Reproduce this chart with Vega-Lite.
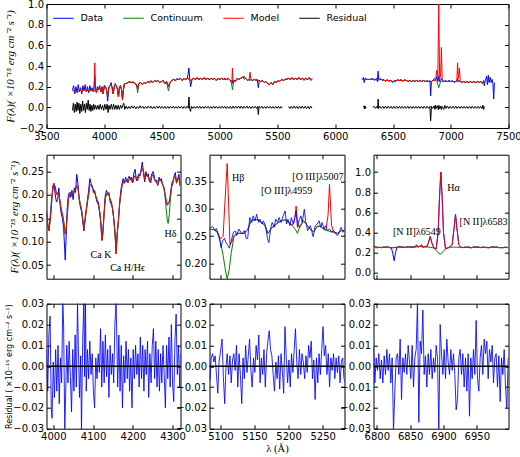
{
"$schema":"https://vega.github.io/schema/vega-lite/v6.json",
"background":"white",
"padding":{"left":3.5,"top":-2,"right":5,"bottom":5},
"config":{
 "view":{"stroke":"black","strokeWidth":1},
 "axis":{"domain":false,"grid":false,"labelFont":"DejaVu Sans","labelFontSize":10,"labelColor":"black","tickColor":"black","tickSize":-4,"labelPadding":7,"labelFlush":false,"labelOverlap":false,"titleFont":"Liberation Serif","titleFontStyle":"italic","titleFontWeight":"normal","titleFontSize":11,"titleColor":"black"},
 "line":{"strokeWidth":1}
},
"datasets":{
"top":[
{"w":3725,"d":0.17,"c":0.16,"m":0.16,"g":1},{"w":3735,"d":0.21,"c":0.16,"m":0.16,"g":1},{"w":3745,"d":0.13,"c":0.15,"m":0.15,"g":1},{"w":3755,"d":0.2,"c":0.16,"m":0.16,"g":1},{"w":3765,"d":0.14,"c":0.15,"m":0.16,"g":1},{"w":3775,"d":0.22,"c":0.16,"m":0.17,"g":1},{"w":3785,"d":0.15,"c":0.16,"m":0.16,"g":1},{"w":3795,"d":0.19,"c":0.17,"m":0.17,"g":1},{"w":3805,"d":0.13,"c":0.15,"m":0.15,"g":1},{"w":3815,"d":0.21,"c":0.17,"m":0.17,"g":1},{"w":3825,"d":0.16,"c":0.16,"m":0.16,"g":1},{"w":3835,"d":0.22,"c":0.17,"m":0.18,"g":1},{"w":3845,"d":0.15,"c":0.16,"m":0.16,"g":1},{"w":3855,"d":0.2,"c":0.17,"m":0.17,"g":1},{"w":3865,"d":0.14,"c":0.15,"m":0.15,"g":1},{"w":3875,"d":0.21,"c":0.17,"m":0.17,"g":1},{"w":3885,"d":0.16,"c":0.16,"m":0.16,"g":1},{"w":3895,"d":0.19,"c":0.17,"m":0.17,"g":1},{"w":3905,"d":0.15,"c":0.15,"m":0.16,"g":1},{"w":3912,"d":0.18,"c":0.16,"m":0.2,"g":1},{"w":3918,"d":0.3,"c":0.16,"m":0.43,"g":1},{"w":3924,"d":0.17,"c":0.16,"m":0.19,"g":1},{"w":3932,"d":0.15,"c":0.14,"m":0.14,"g":1},{"w":3940,"d":0.2,"c":0.18,"m":0.18,"g":1},{"w":3950,"d":0.17,"c":0.17,"m":0.17,"g":1},{"w":3960,"d":0.21,"c":0.2,"m":0.2,"g":1},{"w":3970,"d":0.15,"c":0.15,"m":0.15,"g":1},{"w":3980,"d":0.2,"c":0.19,"m":0.19,"g":1},{"w":3990,"d":0.13,"c":0.13,"m":0.13,"g":1},{"w":4000,"d":0.21,"c":0.2,"m":0.21,"g":1},{"w":4010,"d":0.2,"c":0.2,"m":0.2,"g":1},{"w":4020,"d":0.17,"c":0.17,"m":0.17,"g":1},{"w":4030,"d":0.06,"c":0.11,"m":0.11,"g":1},{"w":4040,"d":0.2,"c":0.19,"m":0.19,"g":1},{"w":4050,"d":0.21,"c":0.21,"m":0.21,"g":1},{"w":4060,"d":0.24,"c":0.22,"m":0.22,"g":1},{"w":4068,"d":0.19,"c":0.19,"m":0.19,"g":1},{"w":4077,"d":0.13,"c":0.13,"m":0.13,"g":1},{"w":4087,"d":0.2,"c":0.2,"m":0.2,"g":1},{"w":4095,"d":0.23,"c":0.22,"m":0.22,"g":1},{"w":4105,"d":0.21,"c":0.21,"m":0.21,"g":1},{"w":4115,"d":0.17,"c":0.17,"m":0.17,"g":1},{"w":4123,"d":0.1,"c":0.1,"m":0.1,"g":1},{"w":4131,"d":0.19,"c":0.19,"m":0.19,"g":1},{"w":4140,"d":0.21,"c":0.21,"m":0.21,"g":1},{"w":4150,"d":0.17,"c":0.17,"m":0.17,"g":1},{"w":4158,"d":0.07,"c":0.08,"m":0.08,"g":1},{"w":4166,"d":0.17,"c":0.17,"m":0.17,"g":1},{"w":4175,"d":0.23,"c":0.23,"m":0.23,"g":1},{"w":4190,"d":0.23,"c":0.23,"m":0.23,"g":1},{"w":4205,"d":0.24,"c":0.24,"m":0.24,"g":1},{"w":4220,"d":0.25,"c":0.24,"m":0.25,"g":1},{"w":4235,"d":0.24,"c":0.24,"m":0.24,"g":1},{"w":4250,"d":0.25,"c":0.24,"m":0.24,"g":1},{"w":4265,"d":0.23,"c":0.23,"m":0.23,"g":1},{"w":4280,"d":0.22,"c":0.22,"m":0.22,"g":1},{"w":4289,"d":0.18,"c":0.14,"m":0.18,"g":1},{"w":4300,"d":0.23,"c":0.23,"m":0.23,"g":1},{"w":4315,"d":0.24,"c":0.24,"m":0.24,"g":1},{"w":4330,"d":0.22,"c":0.22,"m":0.22,"g":1},{"w":4345,"d":0.24,"c":0.24,"m":0.24,"g":1},{"w":4360,"d":0.23,"c":0.23,"m":0.23,"g":1},{"w":4375,"d":0.25,"c":0.25,"m":0.25,"g":1},{"w":4390,"d":0.24,"c":0.24,"m":0.24,"g":1},{"w":4405,"d":0.26,"c":0.25,"m":0.25,"g":1},{"w":4420,"d":0.24,"c":0.24,"m":0.24,"g":1},{"w":4435,"d":0.26,"c":0.26,"m":0.26,"g":1},{"w":4450,"d":0.25,"c":0.25,"m":0.25,"g":1},{"w":4465,"d":0.26,"c":0.26,"m":0.26,"g":1},{"w":4480,"d":0.24,"c":0.24,"m":0.24,"g":1},{"w":4495,"d":0.25,"c":0.25,"m":0.25,"g":1},{"w":4510,"d":0.26,"c":0.26,"m":0.26,"g":1},{"w":4525,"d":0.23,"c":0.23,"m":0.23,"g":1},{"w":4540,"d":0.25,"c":0.24,"m":0.25,"g":1},{"w":4556,"d":0.21,"c":0.16,"m":0.2,"g":1},{"w":4570,"d":0.24,"c":0.24,"m":0.24,"g":1},{"w":4585,"d":0.26,"c":0.26,"m":0.26,"g":1},{"w":4600,"d":0.27,"c":0.27,"m":0.27,"g":1},{"w":4615,"d":0.26,"c":0.26,"m":0.26,"g":1},{"w":4630,"d":0.28,"c":0.27,"m":0.27,"g":1},{"w":4645,"d":0.27,"c":0.27,"m":0.27,"g":1},{"w":4660,"d":0.28,"c":0.28,"m":0.28,"g":1},{"w":4675,"d":0.26,"c":0.26,"m":0.26,"g":1},{"w":4690,"d":0.28,"c":0.28,"m":0.28,"g":1},{"w":4705,"d":0.27,"c":0.27,"m":0.27,"g":1},{"w":4720,"d":0.28,"c":0.28,"m":0.28,"g":1},{"w":4733,"d":0.38,"c":0.27,"m":0.28,"g":1},{"w":4740,"d":0.27,"c":0.27,"m":0.27,"g":1},{"w":4748,"d":0.2,"c":0.26,"m":0.26,"g":1},{"w":4760,"d":0.27,"c":0.27,"m":0.27,"g":1},{"w":4775,"d":0.28,"c":0.28,"m":0.28,"g":1},{"w":4790,"d":0.27,"c":0.27,"m":0.27,"g":1},{"w":4805,"d":0.29,"c":0.28,"m":0.28,"g":1},{"w":4820,"d":0.27,"c":0.27,"m":0.27,"g":1},{"w":4835,"d":0.28,"c":0.28,"m":0.28,"g":1},{"w":4850,"d":0.27,"c":0.27,"m":0.27,"g":1},{"w":4865,"d":0.29,"c":0.28,"m":0.28,"g":1},{"w":4880,"d":0.27,"c":0.27,"m":0.27,"g":1},{"w":4895,"d":0.28,"c":0.28,"m":0.28,"g":1},{"w":4910,"d":0.27,"c":0.27,"m":0.27,"g":1},{"w":4925,"d":0.28,"c":0.28,"m":0.28,"g":1},{"w":4940,"d":0.27,"c":0.27,"m":0.27,"g":1},{"w":4955,"d":0.28,"c":0.28,"m":0.28,"g":1},{"w":4970,"d":0.26,"c":0.26,"m":0.26,"g":1},{"w":4985,"d":0.28,"c":0.28,"m":0.28,"g":1},{"w":5000,"d":0.27,"c":0.27,"m":0.27,"g":1},{"w":5015,"d":0.28,"c":0.28,"m":0.28,"g":1},{"w":5030,"d":0.27,"c":0.27,"m":0.27,"g":1},{"w":5045,"d":0.28,"c":0.27,"m":0.28,"g":1},{"w":5060,"d":0.27,"c":0.27,"m":0.27,"g":1},{"w":5075,"d":0.28,"c":0.28,"m":0.28,"g":1},{"w":5090,"d":0.26,"c":0.26,"m":0.26,"g":1},{"w":5100,"d":0.25,"c":0.24,"m":0.25,"g":1},{"w":5106,"d":0.24,"c":0.2,"m":0.27,"g":1},{"w":5110,"d":0.26,"c":0.17,"m":0.38,"g":1},{"w":5114,"d":0.23,"c":0.2,"m":0.25,"g":1},{"w":5122,"d":0.26,"c":0.26,"m":0.26,"g":1},{"w":5135,"d":0.25,"c":0.25,"m":0.25,"g":1},{"w":5150,"d":0.28,"c":0.28,"m":0.28,"g":1},{"w":5165,"d":0.27,"c":0.27,"m":0.27,"g":1},{"w":5180,"d":0.28,"c":0.28,"m":0.28,"g":1},{"w":5195,"d":0.29,"c":0.29,"m":0.29,"g":1},{"w":5211,"d":0.29,"c":0.27,"m":0.3,"g":1},{"w":5225,"d":0.28,"c":0.28,"m":0.28,"g":1},{"w":5240,"d":0.26,"c":0.26,"m":0.26,"g":1},{"w":5255,"d":0.27,"c":0.27,"m":0.27,"g":1},{"w":5262,"d":0.26,"c":0.26,"m":0.34,"g":1},{"w":5270,"d":0.27,"c":0.27,"m":0.27,"g":1},{"w":5285,"d":0.26,"c":0.26,"m":0.26,"g":1},{"w":5300,"d":0.27,"c":0.27,"m":0.27,"g":1},{"w":5315,"d":0.26,"c":0.26,"m":0.26,"g":1},{"w":5325,"d":0.27,"c":0.27,"m":0.27,"g":1},{"w":5334,"d":0.19,"c":0.26,"m":0.26,"g":1},{"w":5342,"d":0.26,"c":0.26,"m":0.26,"g":1},{"w":5355,"d":0.25,"c":0.25,"m":0.25,"g":1},{"w":5370,"d":0.26,"c":0.26,"m":0.26,"g":1},{"w":5385,"d":0.24,"c":0.24,"m":0.24,"g":1},{"w":5400,"d":0.25,"c":0.25,"m":0.25,"g":1},{"w":5415,"d":0.23,"c":0.23,"m":0.23,"g":1},{"w":5430,"d":0.22,"c":0.22,"m":0.22,"g":1},{"w":5445,"d":0.24,"c":0.24,"m":0.24,"g":1},{"w":5460,"d":0.22,"c":0.22,"m":0.22,"g":1},{"w":5475,"d":0.25,"c":0.25,"m":0.25,"g":1},{"w":5490,"d":0.24,"c":0.24,"m":0.24,"g":1},{"w":5505,"d":0.26,"c":0.26,"m":0.26,"g":1},{"w":5520,"d":0.25,"c":0.25,"m":0.25,"g":1},{"w":5535,"d":0.27,"c":0.27,"m":0.27,"g":1},{"w":5550,"d":0.26,"c":0.26,"m":0.26,"g":1},{"w":5565,"d":0.27,"c":0.27,"m":0.27,"g":1},{"w":5580,"d":0.27,"c":0.27,"m":0.28,"g":1},{"w":5595,"d":0.28,"c":0.28,"m":0.28,"g":1},{"w":5610,"d":0.27,"c":0.27,"m":0.27,"g":1},{"w":5625,"d":0.29,"c":0.28,"m":0.28,"g":1},{"w":5640,"d":0.27,"c":0.27,"m":0.27,"g":1},{"w":5655,"d":0.28,"c":0.28,"m":0.28,"g":1},{"w":5670,"d":0.27,"c":0.27,"m":0.27,"g":1},{"w":5685,"d":0.29,"c":0.28,"m":0.28,"g":1},{"w":5700,"d":0.27,"c":0.27,"m":0.27,"g":1},{"w":5715,"d":0.28,"c":0.28,"m":0.28,"g":1},{"w":5730,"d":0.26,"c":0.27,"m":0.27,"g":1},{"w":5745,"d":0.28,"c":0.28,"m":0.28,"g":1},{"w":5760,"d":0.27,"c":0.27,"m":0.27,"g":1},{"w":5775,"d":0.29,"c":0.28,"m":0.28,"g":1},{"w":5790,"d":0.26,"c":0.27,"m":0.27,"g":1},{"w":5800,"d":0.28,"c":0.27,"m":0.27,"g":1},
{"w":6235,"d":0.27,"c":0.27,"m":0.27,"g":2},{"w":6245,"d":0.29,"c":0.27,"m":0.27,"g":2},{"w":6250,"d":0.24,"c":0.27,"m":0.27,"g":2},{"w":6258,"d":0.28,"c":0.27,"m":0.27,"g":2},{"w":6275,"d":0.27,"c":0.27,"m":0.27,"g":2},{"w":6300,"d":0.27,"c":0.27,"m":0.27,"g":2},{"w":6325,"d":0.28,"c":0.27,"m":0.27,"g":2},{"w":6340,"d":0.26,"c":0.27,"m":0.27,"g":2},{"w":6355,"d":0.28,"c":0.27,"m":0.27,"g":2},{"w":6365,"d":0.25,"c":0.27,"m":0.27,"g":2},{"w":6371,"d":0.35,"c":0.27,"m":0.27,"g":2},{"w":6378,"d":0.26,"c":0.27,"m":0.27,"g":2},{"w":6390,"d":0.28,"c":0.27,"m":0.27,"g":2},{"w":6405,"d":0.26,"c":0.27,"m":0.27,"g":2},{"w":6420,"d":0.27,"c":0.26,"m":0.26,"g":2},{"w":6435,"d":0.25,"c":0.26,"m":0.26,"g":2},{"w":6450,"d":0.27,"c":0.26,"m":0.26,"g":2},{"w":6465,"d":0.25,"c":0.26,"m":0.26,"g":2},{"w":6480,"d":0.26,"c":0.26,"m":0.26,"g":2},{"w":6495,"d":0.24,"c":0.25,"m":0.25,"g":2},{"w":6510,"d":0.26,"c":0.25,"m":0.25,"g":2},{"w":6525,"d":0.25,"c":0.26,"m":0.26,"g":2},{"w":6540,"d":0.27,"c":0.26,"m":0.26,"g":2},{"w":6555,"d":0.26,"c":0.26,"m":0.26,"g":2},{"w":6570,"d":0.27,"c":0.26,"m":0.26,"g":2},{"w":6585,"d":0.25,"c":0.26,"m":0.26,"g":2},{"w":6600,"d":0.27,"c":0.26,"m":0.26,"g":2},{"w":6615,"d":0.26,"c":0.26,"m":0.26,"g":2},{"w":6630,"d":0.25,"c":0.25,"m":0.25,"g":2},{"w":6645,"d":0.26,"c":0.26,"m":0.26,"g":2},{"w":6660,"d":0.25,"c":0.25,"m":0.25,"g":2},{"w":6675,"d":0.26,"c":0.26,"m":0.26,"g":2},{"w":6690,"d":0.25,"c":0.25,"m":0.25,"g":2},{"w":6705,"d":0.26,"c":0.26,"m":0.26,"g":2},{"w":6720,"d":0.25,"c":0.25,"m":0.25,"g":2},{"w":6735,"d":0.26,"c":0.26,"m":0.26,"g":2},{"w":6750,"d":0.25,"c":0.25,"m":0.25,"g":2},{"w":6765,"d":0.26,"c":0.26,"m":0.26,"g":2},{"w":6780,"d":0.25,"c":0.25,"m":0.25,"g":2},{"w":6795,"d":0.26,"c":0.25,"m":0.25,"g":2},{"w":6810,"d":0.25,"c":0.25,"m":0.25,"g":2},{"w":6820,"d":0.26,"c":0.25,"m":0.25,"g":2},{"w":6826,"d":0.11,"c":0.25,"m":0.25,"g":2},{"w":6832,"d":0.25,"c":0.25,"m":0.25,"g":2},{"w":6845,"d":0.26,"c":0.26,"m":0.26,"g":2},{"w":6860,"d":0.28,"c":0.26,"m":0.26,"g":2},{"w":6870,"d":0.26,"c":0.26,"m":0.27,"g":2},{"w":6880,"d":0.3,"c":0.25,"m":0.36,"g":2},{"w":6888,"d":0.25,"c":0.22,"m":0.3,"g":2},{"w":6896,"d":0.3,"c":0.19,"m":1.0,"g":2},{"w":6904,"d":0.25,"c":0.22,"m":0.28,"g":2},{"w":6912,"d":0.26,"c":0.25,"m":0.3,"g":2},{"w":6919,"d":0.28,"c":0.25,"m":0.58,"g":2},{"w":6926,"d":0.26,"c":0.25,"m":0.27,"g":2},{"w":6940,"d":0.25,"c":0.25,"m":0.25,"g":2},{"w":6955,"d":0.26,"c":0.25,"m":0.25,"g":2},{"w":6970,"d":0.25,"c":0.25,"m":0.25,"g":2},{"w":6985,"d":0.26,"c":0.25,"m":0.25,"g":2},{"w":7000,"d":0.25,"c":0.25,"m":0.25,"g":2},{"w":7015,"d":0.26,"c":0.25,"m":0.25,"g":2},{"w":7030,"d":0.24,"c":0.25,"m":0.25,"g":2},{"w":7045,"d":0.25,"c":0.25,"m":0.25,"g":2},{"w":7053,"d":0.25,"c":0.25,"m":0.27,"g":2},{"w":7059,"d":0.28,"c":0.25,"m":0.43,"g":2},{"w":7066,"d":0.25,"c":0.25,"m":0.28,"g":2},{"w":7075,"d":0.26,"c":0.25,"m":0.38,"g":2},{"w":7082,"d":0.25,"c":0.25,"m":0.26,"g":2},{"w":7095,"d":0.24,"c":0.24,"m":0.24,"g":2},{"w":7110,"d":0.25,"c":0.25,"m":0.25,"g":2},{"w":7125,"d":0.24,"c":0.24,"m":0.24,"g":2},{"w":7140,"d":0.25,"c":0.25,"m":0.25,"g":2},{"w":7155,"d":0.24,"c":0.24,"m":0.24,"g":2},{"w":7170,"d":0.25,"c":0.25,"m":0.25,"g":2},{"w":7185,"d":0.24,"c":0.24,"m":0.24,"g":2},{"w":7200,"d":0.25,"c":0.25,"m":0.25,"g":2},{"w":7215,"d":0.24,"c":0.24,"m":0.24,"g":2},{"w":7230,"d":0.25,"c":0.25,"m":0.25,"g":2},{"w":7245,"d":0.24,"c":0.24,"m":0.24,"g":2},{"w":7260,"d":0.25,"c":0.25,"m":0.25,"g":2},{"w":7275,"d":0.23,"c":0.24,"m":0.24,"g":2},{"w":7285,"d":0.26,"c":0.25,"m":0.25,"g":2},{"w":7290,"d":0.21,"c":0.25,"m":0.25,"g":2},{"w":7300,"d":0.26,"g":2},{"w":7310,"d":0.3,"g":2},{"w":7318,"d":0.22,"g":2},{"w":7325,"d":0.31,"g":2},{"w":7332,"d":0.24,"g":2},{"w":7342,"d":0.29,"g":2},{"w":7350,"d":0.24,"g":2},{"w":7358,"d":0.27,"g":2},{"w":7365,"d":0.23,"g":2},{"w":7372,"d":0.08,"g":2},{"w":7378,"d":0.24,"g":2}
],
"tres":[
{"w":3725,"r":-0.03,"g":1},{"w":3733,"r":0.04,"g":1},{"w":3741,"r":-0.05,"g":1},{"w":3749,"r":0.03,"g":1},{"w":3757,"r":-0.04,"g":1},{"w":3765,"r":0.05,"g":1},{"w":3773,"r":-0.03,"g":1},{"w":3781,"r":0.04,"g":1},{"w":3789,"r":-0.06,"g":1},{"w":3797,"r":0.03,"g":1},{"w":3805,"r":-0.04,"g":1},{"w":3813,"r":0.06,"g":1},{"w":3821,"r":-0.03,"g":1},{"w":3829,"r":0.03,"g":1},{"w":3837,"r":-0.05,"g":1},{"w":3845,"r":0.04,"g":1},{"w":3853,"r":-0.02,"g":1},{"w":3861,"r":0.07,"g":1},{"w":3869,"r":-0.03,"g":1},{"w":3877,"r":0.03,"g":1},{"w":3885,"r":-0.04,"g":1},{"w":3893,"r":0.02,"g":1},{"w":3901,"r":-0.03,"g":1},{"w":3909,"r":0.03,"g":1},{"w":3917,"r":-0.02,"g":1},{"w":3925,"r":0.02,"g":1},{"w":3935,"r":-0.02,"g":1},{"w":3945,"r":0.02,"g":1},{"w":3955,"r":-0.02,"g":1},{"w":3965,"r":0.03,"g":1},{"w":3975,"r":-0.02,"g":1},{"w":3985,"r":0.02,"g":1},{"w":3995,"r":-0.03,"g":1},{"w":4005,"r":0.03,"g":1},{"w":4015,"r":-0.02,"g":1},{"w":4025,"r":0.03,"g":1},{"w":4033,"r":-0.05,"g":1},{"w":4041,"r":0.02,"g":1},{"w":4051,"r":-0.02,"g":1},{"w":4061,"r":0.03,"g":1},{"w":4071,"r":-0.02,"g":1},{"w":4081,"r":0.03,"g":1},{"w":4091,"r":-0.02,"g":1},{"w":4101,"r":0.02,"g":1},{"w":4111,"r":-0.02,"g":1},{"w":4121,"r":0.02,"g":1},{"w":4131,"r":-0.02,"g":1},{"w":4141,"r":0.02,"g":1},{"w":4151,"r":-0.01,"g":1},{"w":4161,"r":0.02,"g":1},{"w":4169,"r":0.04,"g":1},{"w":4177,"r":-0.02,"g":1},{"w":4189,"r":0.012,"g":1},{"w":4201,"r":-0.015,"g":1},{"w":4213,"r":0.008,"g":1},{"w":4225,"r":-0.012,"g":1},{"w":4237,"r":0.014,"g":1},{"w":4249,"r":-0.008,"g":1},{"w":4261,"r":0.012,"g":1},{"w":4273,"r":-0.014,"g":1},{"w":4285,"r":0.006,"g":1},{"w":4297,"r":-0.012,"g":1},{"w":4309,"r":0.015,"g":1},{"w":4321,"r":-0.008,"g":1},{"w":4333,"r":0.01,"g":1},{"w":4345,"r":-0.012,"g":1},{"w":4357,"r":0.008,"g":1},{"w":4369,"r":-0.01,"g":1},{"w":4381,"r":0.012,"g":1},{"w":4393,"r":-0.008,"g":1},{"w":4405,"r":0.01,"g":1},{"w":4417,"r":-0.014,"g":1},{"w":4429,"r":0.008,"g":1},{"w":4441,"r":-0.01,"g":1},{"w":4453,"r":0.01,"g":1},{"w":4465,"r":-0.008,"g":1},{"w":4477,"r":0.012,"g":1},{"w":4489,"r":-0.01,"g":1},{"w":4501,"r":0.008,"g":1},{"w":4513,"r":-0.01,"g":1},{"w":4525,"r":0.01,"g":1},{"w":4537,"r":-0.012,"g":1},{"w":4549,"r":0.008,"g":1},{"w":4561,"r":-0.01,"g":1},{"w":4573,"r":0.01,"g":1},{"w":4585,"r":-0.008,"g":1},{"w":4597,"r":0.01,"g":1},{"w":4609,"r":-0.01,"g":1},{"w":4621,"r":0.008,"g":1},{"w":4633,"r":-0.01,"g":1},{"w":4645,"r":0.01,"g":1},{"w":4657,"r":-0.008,"g":1},{"w":4669,"r":0.01,"g":1},{"w":4681,"r":-0.01,"g":1},{"w":4693,"r":0.008,"g":1},{"w":4705,"r":-0.01,"g":1},{"w":4717,"r":0.01,"g":1},{"w":4727,"r":-0.008,"g":1},{"w":4733,"r":0.1,"g":1},{"w":4739,"r":-0.01,"g":1},{"w":4747,"r":-0.04,"g":1},{"w":4755,"r":0.01,"g":1},{"w":4767,"r":-0.01,"g":1},{"w":4779,"r":0.008,"g":1},{"w":4791,"r":-0.01,"g":1},{"w":4803,"r":0.01,"g":1},{"w":4815,"r":-0.008,"g":1},{"w":4827,"r":0.01,"g":1},{"w":4839,"r":-0.01,"g":1},{"w":4851,"r":0.008,"g":1},{"w":4863,"r":-0.01,"g":1},{"w":4875,"r":0.01,"g":1},{"w":4887,"r":-0.008,"g":1},{"w":4899,"r":0.01,"g":1},{"w":4911,"r":-0.01,"g":1},{"w":4923,"r":0.008,"g":1},{"w":4935,"r":-0.01,"g":1},{"w":4947,"r":0.01,"g":1},{"w":4959,"r":-0.008,"g":1},{"w":4971,"r":0.01,"g":1},{"w":4983,"r":-0.01,"g":1},{"w":4995,"r":0.008,"g":1},{"w":5007,"r":-0.01,"g":1},{"w":5019,"r":0.01,"g":1},{"w":5031,"r":-0.008,"g":1},{"w":5043,"r":0.01,"g":1},{"w":5055,"r":-0.01,"g":1},{"w":5067,"r":0.008,"g":1},{"w":5079,"r":-0.01,"g":1},{"w":5091,"r":0.01,"g":1},{"w":5103,"r":-0.012,"g":1},{"w":5115,"r":0.012,"g":1},{"w":5127,"r":-0.01,"g":1},{"w":5139,"r":0.01,"g":1},{"w":5151,"r":-0.008,"g":1},{"w":5163,"r":0.012,"g":1},{"w":5175,"r":-0.01,"g":1},{"w":5187,"r":0.012,"g":1},{"w":5199,"r":-0.012,"g":1},{"w":5211,"r":0.01,"g":1},{"w":5223,"r":-0.008,"g":1},{"w":5235,"r":0.012,"g":1},{"w":5247,"r":-0.01,"g":1},{"w":5259,"r":0.01,"g":1},{"w":5271,"r":-0.012,"g":1},{"w":5283,"r":0.01,"g":1},{"w":5295,"r":-0.008,"g":1},{"w":5307,"r":0.01,"g":1},{"w":5319,"r":-0.01,"g":1},{"w":5328,"r":0.008,"g":1},{"w":5334,"r":-0.07,"g":1},{"w":5340,"r":0.01,"g":1},{"w":5352,"r":-0.008,"g":1},{"w":5364,"r":0.01,"g":1},{"w":5376,"r":-0.01,"g":1},{"w":5388,"r":0.008,"g":1},{"w":5400,"r":-0.01,"g":1},{"w":5412,"r":0.01,"g":1},{"w":5424,"r":-0.008,"g":1},{"w":5436,"r":0.01,"g":1},{"w":5448,"r":-0.01,"g":1},{"w":5460,"r":0.008,"g":1},{"w":5472,"r":-0.01,"g":1},{"w":5484,"r":0.01,"g":1},{"w":5496,"r":-0.008,"g":1},{"w":5508,"r":0.01,"g":1},{"w":5520,"r":-0.01,"g":1},{"w":5532,"r":0.008,"g":1},{"w":5540,"r":-0.008,"g":1},
{"w":5595,"r":0.008,"g":2},{"w":5607,"r":-0.012,"g":2},{"w":5619,"r":0.01,"g":2},{"w":5631,"r":-0.01,"g":2},{"w":5643,"r":0.012,"g":2},{"w":5655,"r":-0.01,"g":2},{"w":5667,"r":0.01,"g":2},{"w":5679,"r":-0.012,"g":2},{"w":5691,"r":0.01,"g":2},{"w":5703,"r":-0.01,"g":2},{"w":5715,"r":0.012,"g":2},{"w":5727,"r":-0.01,"g":2},{"w":5739,"r":0.01,"g":2},{"w":5751,"r":-0.012,"g":2},{"w":5763,"r":0.01,"g":2},{"w":5775,"r":-0.014,"g":2},{"w":5787,"r":0.012,"g":2},{"w":5797,"r":-0.01,"g":2},
{"w":6245,"r":0.0,"g":3},{"w":6250,"r":0.015,"g":3},{"w":6254,"r":-0.015,"g":3},{"w":6258,"r":0.012,"g":3},{"w":6262,"r":-0.01,"g":3},{"w":6266,"r":0.0,"g":3},
{"w":6325,"r":0.0,"g":4},{"w":6337,"r":0.01,"g":4},{"w":6349,"r":-0.01,"g":4},{"w":6361,"r":0.01,"g":4},{"w":6368,"r":-0.01,"g":4},{"w":6371,"r":0.08,"g":4},{"w":6375,"r":-0.01,"g":4},{"w":6387,"r":0.01,"g":4},{"w":6399,"r":-0.01,"g":4},{"w":6411,"r":0.01,"g":4},{"w":6423,"r":-0.01,"g":4},{"w":6435,"r":0.012,"g":4},{"w":6447,"r":-0.01,"g":4},{"w":6459,"r":0.01,"g":4},{"w":6471,"r":-0.01,"g":4},{"w":6483,"r":0.01,"g":4},{"w":6495,"r":-0.012,"g":4},{"w":6507,"r":0.01,"g":4},{"w":6519,"r":-0.01,"g":4},{"w":6531,"r":0.01,"g":4},{"w":6543,"r":-0.01,"g":4},{"w":6555,"r":0.01,"g":4},{"w":6567,"r":-0.01,"g":4},{"w":6579,"r":0.01,"g":4},{"w":6591,"r":-0.01,"g":4},{"w":6603,"r":0.01,"g":4},{"w":6615,"r":-0.01,"g":4},{"w":6627,"r":0.01,"g":4},{"w":6639,"r":-0.01,"g":4},{"w":6651,"r":0.01,"g":4},{"w":6663,"r":-0.01,"g":4},{"w":6675,"r":0.01,"g":4},{"w":6687,"r":-0.01,"g":4},{"w":6699,"r":0.01,"g":4},{"w":6711,"r":-0.01,"g":4},{"w":6723,"r":0.01,"g":4},{"w":6735,"r":-0.01,"g":4},{"w":6747,"r":0.01,"g":4},{"w":6759,"r":-0.01,"g":4},{"w":6771,"r":0.01,"g":4},{"w":6783,"r":-0.01,"g":4},{"w":6795,"r":0.01,"g":4},{"w":6807,"r":-0.01,"g":4},{"w":6819,"r":0.01,"g":4},{"w":6826,"r":-0.13,"g":4},{"w":6833,"r":0.01,"g":4},{"w":6845,"r":-0.01,"g":4},{"w":6857,"r":0.015,"g":4},{"w":6863,"r":-0.02,"g":4},{"w":6869,"r":0.02,"g":4},{"w":6877,"r":-0.01,"g":4},{"w":6885,"r":0.015,"g":4},{"w":6893,"r":-0.025,"g":4},{"w":6897,"r":0.02,"g":4},{"w":6905,"r":-0.015,"g":4},{"w":6913,"r":0.012,"g":4},{"w":6919,"r":-0.02,"g":4},{"w":6925,"r":0.01,"g":4},{"w":6935,"r":-0.012,"g":4},{"w":6940,"r":-0.02,"g":4},{"w":6949,"r":0.02,"g":4},{"w":6959,"r":-0.01,"g":4},{"w":6971,"r":0.012,"g":4},{"w":6983,"r":-0.012,"g":4},{"w":6995,"r":0.01,"g":4},{"w":7007,"r":-0.01,"g":4},{"w":7019,"r":0.01,"g":4},{"w":7031,"r":-0.01,"g":4},{"w":7043,"r":0.01,"g":4},{"w":7055,"r":-0.01,"g":4},{"w":7067,"r":0.01,"g":4},{"w":7079,"r":-0.01,"g":4},{"w":7091,"r":0.01,"g":4},{"w":7103,"r":-0.01,"g":4},{"w":7115,"r":0.01,"g":4},{"w":7127,"r":-0.01,"g":4},{"w":7139,"r":0.01,"g":4},{"w":7151,"r":-0.01,"g":4},{"w":7163,"r":0.01,"g":4},{"w":7175,"r":-0.01,"g":4},{"w":7187,"r":0.01,"g":4},{"w":7199,"r":-0.01,"g":4},{"w":7211,"r":0.01,"g":4},{"w":7223,"r":-0.01,"g":4},{"w":7235,"r":0.01,"g":4},{"w":7247,"r":-0.01,"g":4},{"w":7259,"r":0.01,"g":4},{"w":7271,"r":-0.012,"g":4},{"w":7279,"r":0.02,"g":4},{"w":7285,"r":-0.02,"g":4},{"w":7290,"r":0.01,"g":4}
],
"p1":[
{"w":3983,"m":0.166,"d":0.16,"c":0.166},{"w":3986,"m":0.14,"d":0.135,"c":0.14},{"w":3989,"m":0.123,"d":0.125,"c":0.123},{"w":3993,"m":0.15,"d":0.16,"c":0.15},{"w":3996,"m":0.184,"d":0.195,"c":0.184},{"w":3999,"m":0.22,"d":0.21,"c":0.22},{"w":4002,"m":0.215,"d":0.225,"c":0.215},{"w":4005,"m":0.219,"d":0.2,"c":0.219},{"w":4008,"m":0.2,"d":0.185,"c":0.2},{"w":4011,"m":0.205,"d":0.19,"c":0.205},{"w":4014,"m":0.2,"d":0.215,"c":0.2},{"w":4017,"m":0.187,"d":0.18,"c":0.187},{"w":4020,"m":0.17,"d":0.16,"c":0.17},{"w":4023,"m":0.16,"d":0.15,"c":0.16},{"w":4026,"m":0.145,"d":0.13,"c":0.145},{"w":4029,"m":0.125,"d":0.08,"c":0.125},{"w":4030,"m":0.116,"d":0.061,"c":0.116},{"w":4032,"m":0.125,"d":0.1,"c":0.125},{"w":4035,"m":0.152,"d":0.17,"c":0.152},{"w":4038,"m":0.19,"d":0.2,"c":0.19},{"w":4041,"m":0.2,"d":0.205,"c":0.2},{"w":4044,"m":0.205,"d":0.195,"c":0.205},{"w":4047,"m":0.198,"d":0.21,"c":0.198},{"w":4050,"m":0.2,"d":0.19,"c":0.2},{"w":4053,"m":0.209,"d":0.215,"c":0.209},{"w":4056,"m":0.212,"d":0.205,"c":0.212},{"w":4059,"m":0.22,"d":0.244,"c":0.22},{"w":4062,"m":0.215,"d":0.225,"c":0.215},{"w":4065,"m":0.195,"d":0.19,"c":0.195},{"w":4068,"m":0.18,"d":0.175,"c":0.18},{"w":4071,"m":0.17,"d":0.165,"c":0.17},{"w":4074,"m":0.15,"d":0.145,"c":0.15},{"w":4077,"m":0.127,"d":0.123,"c":0.127},{"w":4080,"m":0.145,"d":0.15,"c":0.145},{"w":4083,"m":0.165,"d":0.17,"c":0.165},{"w":4086,"m":0.185,"d":0.19,"c":0.185},{"w":4089,"m":0.2,"d":0.21,"c":0.2},{"w":4092,"m":0.22,"d":0.235,"c":0.22},{"w":4095,"m":0.223,"d":0.225,"c":0.223},{"w":4098,"m":0.216,"d":0.22,"c":0.216},{"w":4101,"m":0.212,"d":0.205,"c":0.212},{"w":4104,"m":0.205,"d":0.21,"c":0.205},{"w":4107,"m":0.198,"d":0.195,"c":0.198},{"w":4110,"m":0.19,"d":0.185,"c":0.19},{"w":4113,"m":0.185,"d":0.18,"c":0.185},{"w":4116,"m":0.17,"d":0.165,"c":0.17},{"w":4119,"m":0.15,"d":0.145,"c":0.15},{"w":4122,"m":0.11,"d":0.108,"c":0.11},{"w":4123,"m":0.103,"d":0.103,"c":0.103},{"w":4125,"m":0.12,"d":0.125,"c":0.12},{"w":4128,"m":0.16,"d":0.165,"c":0.16},{"w":4131,"m":0.194,"d":0.2,"c":0.194},{"w":4134,"m":0.2,"d":0.21,"c":0.2},{"w":4137,"m":0.205,"d":0.2,"c":0.205},{"w":4140,"m":0.2,"d":0.205,"c":0.2},{"w":4143,"m":0.191,"d":0.185,"c":0.191},{"w":4146,"m":0.185,"d":0.18,"c":0.185},{"w":4149,"m":0.173,"d":0.17,"c":0.173},{"w":4152,"m":0.15,"d":0.15,"c":0.15},{"w":4155,"m":0.125,"d":0.12,"c":0.125},{"w":4158,"m":0.074,"d":0.08,"c":0.074},{"w":4161,"m":0.12,"d":0.115,"c":0.12},{"w":4164,"m":0.145,"d":0.15,"c":0.145},{"w":4167,"m":0.18,"d":0.185,"c":0.18},{"w":4170,"m":0.202,"d":0.21,"c":0.202},{"w":4173,"m":0.22,"d":0.225,"c":0.22},{"w":4176,"m":0.226,"d":0.235,"c":0.226},{"w":4179,"m":0.23,"d":0.225,"c":0.23},{"w":4182,"m":0.228,"d":0.238,"c":0.228},{"w":4185,"m":0.232,"d":0.228,"c":0.232},{"w":4188,"m":0.226,"d":0.235,"c":0.226},{"w":4191,"m":0.234,"d":0.24,"c":0.234},{"w":4194,"m":0.237,"d":0.232,"c":0.237},{"w":4197,"m":0.23,"d":0.238,"c":0.23},{"w":4200,"m":0.226,"d":0.228,"c":0.226},{"w":4203,"m":0.238,"d":0.248,"c":0.238},{"w":4206,"m":0.241,"d":0.255,"c":0.241},{"w":4209,"m":0.235,"d":0.23,"c":0.235},{"w":4212,"m":0.23,"d":0.238,"c":0.23},{"w":4215,"m":0.24,"d":0.245,"c":0.24},{"w":4218,"m":0.244,"d":0.24,"c":0.244},{"w":4221,"m":0.25,"d":0.255,"c":0.25},{"w":4224,"m":0.258,"d":0.27,"c":0.258},{"w":4227,"m":0.25,"d":0.245,"c":0.25},{"w":4230,"m":0.234,"d":0.228,"c":0.234},{"w":4233,"m":0.24,"d":0.25,"c":0.24},{"w":4236,"m":0.244,"d":0.24,"c":0.244},{"w":4239,"m":0.238,"d":0.245,"c":0.238},{"w":4242,"m":0.232,"d":0.228,"c":0.232},{"w":4245,"m":0.226,"d":0.235,"c":0.226},{"w":4248,"m":0.24,"d":0.245,"c":0.24},{"w":4251,"m":0.244,"d":0.25,"c":0.244},{"w":4254,"m":0.235,"d":0.24,"c":0.235},{"w":4257,"m":0.23,"d":0.228,"c":0.23},{"w":4260,"m":0.226,"d":0.232,"c":0.226},{"w":4263,"m":0.223,"d":0.22,"c":0.223},{"w":4266,"m":0.23,"d":0.238,"c":0.23},{"w":4269,"m":0.234,"d":0.23,"c":0.234},{"w":4272,"m":0.228,"d":0.235,"c":0.228},{"w":4275,"m":0.223,"d":0.22,"c":0.223},{"w":4278,"m":0.215,"d":0.218,"c":0.215},{"w":4281,"m":0.205,"d":0.2,"c":0.2},{"w":4284,"m":0.19,"d":0.185,"c":0.17},{"w":4287,"m":0.18,"d":0.178,"c":0.145},{"w":4289,"m":0.18,"d":0.182,"c":0.139},{"w":4292,"m":0.188,"d":0.185,"c":0.16},{"w":4295,"m":0.205,"d":0.2,"c":0.195},{"w":4298,"m":0.218,"d":0.225,"c":0.218},{"w":4301,"m":0.226,"d":0.23,"c":0.226},{"w":4304,"m":0.238,"d":0.24,"c":0.238},{"w":4307,"m":0.241,"d":0.248,"c":0.241},{"w":4310,"m":0.226,"d":0.225,"c":0.226},{"w":4313,"m":0.232,"d":0.235,"c":0.232},{"w":4316,"m":0.237,"d":0.244,"c":0.237},{"w":4319,"m":0.219,"d":0.222,"c":0.219}
],
"p2d":[
{"w":5084,"v":0.263},{"w":5086,"v":0.266},{"w":5089,"v":0.267},{"w":5092,"v":0.26},{"w":5094,"v":0.264},{"w":5097,"v":0.254},{"w":5099,"v":0.243},{"w":5101,"v":0.229},{"w":5103,"v":0.241},{"w":5106,"v":0.246},{"w":5108,"v":0.238},{"w":5110,"v":0.235},{"w":5113,"v":0.228},{"w":5116,"v":0.241},{"w":5119,"v":0.257},{"w":5122,"v":0.259},{"w":5124,"v":0.251},{"w":5127,"v":0.263},{"w":5130,"v":0.257},{"w":5132,"v":0.254},{"w":5135,"v":0.26},{"w":5138,"v":0.245},{"w":5140,"v":0.246},{"w":5143,"v":0.284},{"w":5146,"v":0.275},{"w":5148,"v":0.287},{"w":5151,"v":0.278},{"w":5153,"v":0.29},{"w":5156,"v":0.275},{"w":5158,"v":0.281},{"w":5161,"v":0.272},{"w":5163,"v":0.278},{"w":5166,"v":0.269},{"w":5169,"v":0.246},{"w":5171,"v":0.238},{"w":5174,"v":0.266},{"w":5176,"v":0.275},{"w":5179,"v":0.266},{"w":5181,"v":0.281},{"w":5184,"v":0.275},{"w":5186,"v":0.284},{"w":5189,"v":0.275},{"w":5192,"v":0.287},{"w":5195,"v":0.296},{"w":5197,"v":0.272},{"w":5199,"v":0.281},{"w":5202,"v":0.269},{"w":5204,"v":0.284},{"w":5207,"v":0.272},{"w":5209,"v":0.284},{"w":5211,"v":0.296},{"w":5213,"v":0.266},{"w":5215,"v":0.278},{"w":5218,"v":0.287},{"w":5220,"v":0.275},{"w":5223,"v":0.299},{"w":5225,"v":0.278},{"w":5228,"v":0.26},{"w":5232,"v":0.269},{"w":5236,"v":0.249},{"w":5239,"v":0.269},{"w":5242,"v":0.272},{"w":5245,"v":0.278},{"w":5247,"v":0.266},{"w":5249,"v":0.275},{"w":5252,"v":0.263},{"w":5254,"v":0.269},{"w":5257,"v":0.26},{"w":5260,"v":0.263},{"w":5263,"v":0.257},{"w":5266,"v":0.26},{"w":5269,"v":0.254},{"w":5272,"v":0.251},{"w":5275,"v":0.26},{"w":5277,"v":0.266},{"w":5280,"v":0.257},{"w":5283,"v":0.263}
],
"p2c":[
{"w":5084,"v":0.262},{"w":5090,"v":0.262},{"w":5095,"v":0.258},{"w":5100,"v":0.24},{"w":5104,"v":0.215},{"w":5107,"v":0.19},{"w":5110,"v":0.171},{"w":5113,"v":0.19},{"w":5116,"v":0.22},{"w":5120,"v":0.25},{"w":5125,"v":0.255},{"w":5130,"v":0.255},{"w":5135,"v":0.255},{"w":5140,"v":0.262},{"w":5145,"v":0.278},{"w":5150,"v":0.28},{"w":5155,"v":0.28},{"w":5160,"v":0.275},{"w":5165,"v":0.27},{"w":5170,"v":0.255},{"w":5175,"v":0.265},{"w":5180,"v":0.27},{"w":5185,"v":0.275},{"w":5190,"v":0.278},{"w":5195,"v":0.28},{"w":5200,"v":0.275},{"w":5205,"v":0.27},{"w":5210,"v":0.262},{"w":5213,"v":0.255},{"w":5217,"v":0.27},{"w":5222,"v":0.278},{"w":5227,"v":0.27},{"w":5232,"v":0.262},{"w":5237,"v":0.258},{"w":5242,"v":0.268},{"w":5247,"v":0.268},{"w":5252,"v":0.262},{"w":5257,"v":0.26},{"w":5262,"v":0.258},{"w":5267,"v":0.257},{"w":5272,"v":0.255},{"w":5277,"v":0.26},{"w":5283,"v":0.26}
],
"p2m":[
{"w":5084,"v":0.262},{"w":5090,"v":0.262},{"w":5095,"v":0.258},{"w":5100,"v":0.245},{"w":5104,"v":0.25},{"w":5107,"v":0.32},{"w":5110,"v":0.383},{"w":5112,"v":0.31},{"w":5114,"v":0.235},{"w":5117,"v":0.24},{"w":5120,"v":0.25},{"w":5125,"v":0.255},{"w":5130,"v":0.255},{"w":5135,"v":0.255},{"w":5140,"v":0.262},{"w":5145,"v":0.278},{"w":5150,"v":0.28},{"w":5155,"v":0.28},{"w":5160,"v":0.275},{"w":5165,"v":0.27},{"w":5170,"v":0.255},{"w":5175,"v":0.265},{"w":5180,"v":0.27},{"w":5185,"v":0.275},{"w":5190,"v":0.278},{"w":5195,"v":0.28},{"w":5200,"v":0.275},{"w":5205,"v":0.27},{"w":5208,"v":0.275},{"w":5210,"v":0.29},{"w":5211,"v":0.305},{"w":5213,"v":0.275},{"w":5216,"v":0.265},{"w":5222,"v":0.278},{"w":5227,"v":0.27},{"w":5232,"v":0.262},{"w":5237,"v":0.258},{"w":5242,"v":0.268},{"w":5247,"v":0.268},{"w":5252,"v":0.262},{"w":5255,"v":0.262},{"w":5258,"v":0.29},{"w":5260,"v":0.345},{"w":5263,"v":0.27},{"w":5266,"v":0.257},{"w":5272,"v":0.255},{"w":5277,"v":0.26},{"w":5283,"v":0.26}
],
"p3d":[
{"w":6795,"v":0.268},{"w":6798,"v":0.255},{"w":6801,"v":0.248},{"w":6804,"v":0.256},{"w":6807,"v":0.25},{"w":6810,"v":0.258},{"w":6813,"v":0.252},{"w":6816,"v":0.26},{"w":6819,"v":0.25},{"w":6822,"v":0.245},{"w":6824,"v":0.19},{"w":6826,"v":0.12},{"w":6828,"v":0.2},{"w":6830,"v":0.25},{"w":6833,"v":0.262},{"w":6836,"v":0.255},{"w":6839,"v":0.26},{"w":6842,"v":0.25},{"w":6845,"v":0.258},{"w":6848,"v":0.262},{"w":6851,"v":0.252},{"w":6854,"v":0.258},{"w":6857,"v":0.262},{"w":6860,"v":0.278},{"w":6862,"v":0.255},{"w":6865,"v":0.268},{"w":6867,"v":0.28},{"w":6869,"v":0.255},{"w":6872,"v":0.262},{"w":6875,"v":0.258},{"w":6877,"v":0.29},{"w":6880,"v":0.361},{"w":6883,"v":0.29},{"w":6886,"v":0.245},{"w":6889,"v":0.24},{"w":6892,"v":0.4},{"w":6894,"v":0.75},{"w":6896,"v":1.0},{"w":6898,"v":0.75},{"w":6900,"v":0.4},{"w":6903,"v":0.24},{"w":6906,"v":0.245},{"w":6909,"v":0.258},{"w":6913,"v":0.28},{"w":6916,"v":0.45},{"w":6918,"v":0.583},{"w":6920,"v":0.45},{"w":6923,"v":0.28},{"w":6926,"v":0.255},{"w":6929,"v":0.25},{"w":6932,"v":0.258},{"w":6935,"v":0.252},{"w":6938,"v":0.26},{"w":6941,"v":0.248},{"w":6944,"v":0.255},{"w":6947,"v":0.262},{"w":6950,"v":0.25},{"w":6953,"v":0.256},{"w":6956,"v":0.25},{"w":6959,"v":0.258},{"w":6962,"v":0.252},{"w":6965,"v":0.256},{"w":6968,"v":0.248},{"w":6971,"v":0.255},{"w":6974,"v":0.26},{"w":6977,"v":0.252},{"w":6980,"v":0.258},{"w":6983,"v":0.25},{"w":6986,"v":0.254},{"w":6989,"v":0.248},{"w":6992,"v":0.256},{"w":6995,"v":0.25},{"w":6997,"v":0.253}
],
"p3c":[
{"w":6795,"v":0.262},{"w":6800,"v":0.255},{"w":6805,"v":0.252},{"w":6810,"v":0.255},{"w":6815,"v":0.258},{"w":6820,"v":0.252},{"w":6825,"v":0.25},{"w":6830,"v":0.255},{"w":6835,"v":0.258},{"w":6840,"v":0.253},{"w":6845,"v":0.256},{"w":6850,"v":0.258},{"w":6855,"v":0.254},{"w":6860,"v":0.26},{"w":6865,"v":0.262},{"w":6870,"v":0.258},{"w":6875,"v":0.258},{"w":6880,"v":0.255},{"w":6885,"v":0.248},{"w":6889,"v":0.225},{"w":6892,"v":0.2},{"w":6895,"v":0.185},{"w":6898,"v":0.2},{"w":6901,"v":0.225},{"w":6905,"v":0.248},{"w":6910,"v":0.255},{"w":6915,"v":0.256},{"w":6920,"v":0.255},{"w":6925,"v":0.254},{"w":6930,"v":0.252},{"w":6935,"v":0.256},{"w":6940,"v":0.25},{"w":6945,"v":0.254},{"w":6950,"v":0.258},{"w":6955,"v":0.252},{"w":6960,"v":0.256},{"w":6965,"v":0.25},{"w":6970,"v":0.254},{"w":6975,"v":0.257},{"w":6980,"v":0.255},{"w":6985,"v":0.25},{"w":6990,"v":0.252},{"w":6995,"v":0.255},{"w":6997,"v":0.25}
],
"p3m":[
{"w":6795,"v":0.262},{"w":6800,"v":0.255},{"w":6805,"v":0.252},{"w":6810,"v":0.255},{"w":6815,"v":0.258},{"w":6820,"v":0.252},{"w":6825,"v":0.25},{"w":6830,"v":0.255},{"w":6835,"v":0.258},{"w":6840,"v":0.253},{"w":6845,"v":0.256},{"w":6850,"v":0.258},{"w":6855,"v":0.254},{"w":6860,"v":0.26},{"w":6865,"v":0.262},{"w":6870,"v":0.258},{"w":6874,"v":0.262},{"w":6877,"v":0.29},{"w":6880,"v":0.361},{"w":6883,"v":0.29},{"w":6886,"v":0.245},{"w":6889,"v":0.24},{"w":6892,"v":0.4},{"w":6894,"v":0.75},{"w":6896,"v":1.0},{"w":6898,"v":0.75},{"w":6900,"v":0.4},{"w":6903,"v":0.24},{"w":6906,"v":0.245},{"w":6910,"v":0.255},{"w":6913,"v":0.28},{"w":6916,"v":0.45},{"w":6918,"v":0.583},{"w":6920,"v":0.45},{"w":6923,"v":0.28},{"w":6926,"v":0.255},{"w":6930,"v":0.252},{"w":6935,"v":0.256},{"w":6940,"v":0.25},{"w":6945,"v":0.254},{"w":6950,"v":0.258},{"w":6955,"v":0.252},{"w":6960,"v":0.256},{"w":6965,"v":0.25},{"w":6970,"v":0.254},{"w":6975,"v":0.257},{"w":6980,"v":0.255},{"w":6985,"v":0.25},{"w":6990,"v":0.252},{"w":6995,"v":0.255},{"w":6997,"v":0.25}
],
"r1":[
{"w":3983,"r":0.008},{"w":3986,"r":-0.012},{"w":3989,"r":0.015},{"w":3992,"r":0.024},{"w":3995,"r":-0.02},{"w":3997,"r":-0.025},{"w":4000,"r":0.002},{"w":4003,"r":-0.015},{"w":4006,"r":0.008},{"w":4009,"r":-0.012},{"w":4012,"r":0.01},{"w":4015,"r":-0.018},{"w":4018,"r":0.004},{"w":4021,"r":-0.008},{"w":4024,"r":0.031},{"w":4026,"r":0.02},{"w":4029,"r":-0.031},{"w":4031,"r":-0.015},{"w":4034,"r":0.01},{"w":4037,"r":-0.008},{"w":4040,"r":0.012},{"w":4043,"r":-0.005},{"w":4046,"r":-0.022},{"w":4049,"r":0.008},{"w":4052,"r":-0.012},{"w":4055,"r":0.015},{"w":4058,"r":-0.01},{"w":4061,"r":0.031},{"w":4063,"r":0.01},{"w":4066,"r":-0.015},{"w":4069,"r":0.005},{"w":4071,"r":-0.031},{"w":4074,"r":0.012},{"w":4077,"r":0.031},{"w":4079,"r":-0.005},{"w":4081,"r":0.031},{"w":4083,"r":-0.012},{"w":4086,"r":0.008},{"w":4089,"r":-0.006},{"w":4092,"r":0.012},{"w":4095,"r":-0.004},{"w":4098,"r":0.006},{"w":4101,"r":-0.012},{"w":4104,"r":-0.02},{"w":4107,"r":0.004},{"w":4110,"r":-0.006},{"w":4113,"r":0.006},{"w":4116,"r":-0.003},{"w":4119,"r":0.018},{"w":4122,"r":-0.01},{"w":4125,"r":0.012},{"w":4128,"r":-0.008},{"w":4131,"r":0.015},{"w":4134,"r":-0.005},{"w":4137,"r":0.008},{"w":4140,"r":-0.015},{"w":4143,"r":0.01},{"w":4146,"r":-0.004},{"w":4149,"r":0.006},{"w":4152,"r":-0.008},{"w":4155,"r":0.02},{"w":4158,"r":0.031},{"w":4160,"r":0.012},{"w":4162,"r":-0.01},{"w":4165,"r":0.015},{"w":4168,"r":-0.012},{"w":4171,"r":0.01},{"w":4174,"r":-0.02},{"w":4177,"r":0.005},{"w":4180,"r":-0.008},{"w":4183,"r":0.012},{"w":4186,"r":-0.006},{"w":4189,"r":0.008},{"w":4192,"r":-0.012},{"w":4195,"r":0.004},{"w":4198,"r":-0.02},{"w":4201,"r":0.008},{"w":4204,"r":-0.006},{"w":4207,"r":0.01},{"w":4210,"r":-0.004},{"w":4213,"r":0.006},{"w":4216,"r":-0.01},{"w":4219,"r":0.014},{"w":4222,"r":-0.006},{"w":4225,"r":0.01},{"w":4228,"r":-0.012},{"w":4231,"r":0.008},{"w":4234,"r":-0.004},{"w":4237,"r":0.012},{"w":4240,"r":-0.015},{"w":4243,"r":0.006},{"w":4246,"r":-0.008},{"w":4249,"r":0.01},{"w":4252,"r":0.018},{"w":4255,"r":-0.006},{"w":4258,"r":0.012},{"w":4261,"r":-0.01},{"w":4264,"r":0.008},{"w":4267,"r":-0.012},{"w":4270,"r":0.006},{"w":4273,"r":-0.008},{"w":4276,"r":0.01},{"w":4279,"r":-0.004},{"w":4282,"r":-0.02},{"w":4285,"r":0.01},{"w":4288,"r":-0.006},{"w":4291,"r":0.014},{"w":4294,"r":-0.01},{"w":4297,"r":0.02},{"w":4300,"r":-0.008},{"w":4303,"r":-0.017},{"w":4306,"r":0.012},{"w":4309,"r":0.025},{"w":4312,"r":-0.004},{"w":4315,"r":0.01},{"w":4318,"r":-0.01},{"w":4320,"r":0.006}
],
"r2":[
{"w":5084.6,"r":-0.007},{"w":5086.5,"r":0.004},{"w":5088.5,"r":0.006},{"w":5090.4,"r":0.002},{"w":5092.3,"r":0.005},{"w":5094.2,"r":-0.004},{"w":5096.2,"r":-0.013},{"w":5098,"r":0.002},{"w":5100.5,"r":0.008},{"w":5102.4,"r":0.013},{"w":5104.3,"r":-0.005},{"w":5106.3,"r":-0.018},{"w":5108.2,"r":0.0},{"w":5110,"r":0.006},{"w":5112,"r":-0.004},{"w":5114,"r":0.005},{"w":5115.9,"r":-0.008},{"w":5117.8,"r":0.003},{"w":5119.7,"r":0.006},{"w":5121.6,"r":-0.002},{"w":5123.6,"r":0.01},{"w":5125.5,"r":-0.01},{"w":5127.4,"r":0.006},{"w":5129.3,"r":-0.004},{"w":5131.3,"r":-0.018},{"w":5133.2,"r":0.004},{"w":5135.1,"r":-0.006},{"w":5137,"r":0.01},{"w":5139,"r":-0.003},{"w":5140.9,"r":0.005},{"w":5142.8,"r":0.013},{"w":5144.7,"r":-0.002},{"w":5146.6,"r":-0.01},{"w":5148.6,"r":0.004},{"w":5150.5,"r":-0.003},{"w":5152.4,"r":0.01},{"w":5154.3,"r":0.003},{"w":5156.3,"r":0.015},{"w":5158.2,"r":-0.008},{"w":5160.1,"r":0.004},{"w":5162,"r":-0.004},{"w":5163.9,"r":0.008},{"w":5165.9,"r":-0.01},{"w":5167.8,"r":0.006},{"w":5169.7,"r":0.012},{"w":5171.6,"r":0.017},{"w":5173.6,"r":0.008},{"w":5175.5,"r":0.005},{"w":5177.4,"r":-0.004},{"w":5179.3,"r":-0.012},{"w":5181.3,"r":0.002},{"w":5183.2,"r":-0.006},{"w":5185.1,"r":0.005},{"w":5187,"r":-0.011},{"w":5188.9,"r":0.006},{"w":5190.9,"r":-0.002},{"w":5192.8,"r":-0.013},{"w":5194.7,"r":0.019},{"w":5196.6,"r":0.004},{"w":5198.6,"r":-0.008},{"w":5200.5,"r":0.003},{"w":5202.4,"r":-0.01},{"w":5204.3,"r":0.006},{"w":5206.3,"r":-0.003},{"w":5208.2,"r":0.008},{"w":5210.1,"r":0.018},{"w":5212,"r":0.002},{"w":5213.9,"r":-0.006},{"w":5215.9,"r":0.008},{"w":5217.8,"r":-0.004},{"w":5219.7,"r":0.006},{"w":5221.6,"r":0.002},{"w":5223.6,"r":-0.006},{"w":5225.5,"r":0.005},{"w":5227.4,"r":-0.003},{"w":5229.3,"r":0.01},{"w":5231.3,"r":0.004},{"w":5233.2,"r":0.012},{"w":5235.1,"r":-0.006},{"w":5237,"r":0.003},{"w":5238.9,"r":-0.016},{"w":5240.9,"r":0.004},{"w":5242.8,"r":-0.008},{"w":5244.7,"r":0.006},{"w":5246.6,"r":-0.004},{"w":5248.6,"r":0.008},{"w":5250.5,"r":0.019},{"w":5252.4,"r":0.005},{"w":5254.3,"r":0.01},{"w":5256.3,"r":-0.004},{"w":5258.2,"r":0.006},{"w":5260.1,"r":-0.01},{"w":5262,"r":0.004},{"w":5263.9,"r":-0.002},{"w":5265.9,"r":0.006},{"w":5267.8,"r":-0.006},{"w":5269.7,"r":0.004},{"w":5271.6,"r":-0.003},{"w":5273.6,"r":0.005},{"w":5275.5,"r":-0.008},{"w":5277.4,"r":0.002},{"w":5279.3,"r":0.004},{"w":5281.3,"r":-0.006},{"w":5282.7,"r":-0.008}
],
"r3":[
{"w":6795,"r":0.009},{"w":6797,"r":-0.008},{"w":6799,"r":0.004},{"w":6801,"r":-0.002},{"w":6803,"r":0.006},{"w":6805,"r":-0.006},{"w":6807,"r":0.003},{"w":6809,"r":-0.008},{"w":6811,"r":0.005},{"w":6813,"r":-0.004},{"w":6815,"r":0.008},{"w":6817,"r":-0.002},{"w":6819,"r":0.006},{"w":6821,"r":-0.008},{"w":6823,"r":0.004},{"w":6825,"r":-0.031},{"w":6827,"r":-0.012},{"w":6829,"r":0.004},{"w":6831,"r":0.006},{"w":6833,"r":-0.004},{"w":6835,"r":0.013},{"w":6837,"r":-0.016},{"w":6839,"r":0.004},{"w":6841,"r":-0.003},{"w":6843,"r":0.006},{"w":6845,"r":-0.004},{"w":6847,"r":0.01},{"w":6849,"r":0.002},{"w":6851,"r":-0.006},{"w":6853,"r":0.01},{"w":6855,"r":-0.01},{"w":6857,"r":0.004},{"w":6859,"r":0.008},{"w":6861,"r":0.031},{"w":6863,"r":-0.027},{"w":6865,"r":0.012},{"w":6867,"r":0.006},{"w":6869,"r":0.027},{"w":6871,"r":-0.004},{"w":6873,"r":0.005},{"w":6875,"r":-0.01},{"w":6877,"r":0.006},{"w":6879,"r":-0.004},{"w":6881,"r":0.008},{"w":6883,"r":-0.006},{"w":6885,"r":0.004},{"w":6887,"r":-0.003},{"w":6889,"r":0.01},{"w":6891,"r":0.004},{"w":6893,"r":-0.031},{"w":6895,"r":0.02},{"w":6897,"r":0.006},{"w":6899,"r":-0.004},{"w":6901,"r":0.008},{"w":6903,"r":-0.006},{"w":6905,"r":0.013},{"w":6907,"r":0.002},{"w":6909,"r":-0.004},{"w":6911,"r":0.008},{"w":6913,"r":-0.002},{"w":6915,"r":0.006},{"w":6917,"r":-0.004},{"w":6919,"r":-0.021},{"w":6921,"r":-0.016},{"w":6923,"r":0.004},{"w":6925,"r":0.008},{"w":6927,"r":-0.004},{"w":6929,"r":0.006},{"w":6931,"r":-0.01},{"w":6933,"r":0.004},{"w":6935,"r":-0.012},{"w":6937,"r":0.006},{"w":6939,"r":-0.024},{"w":6941,"r":0.004},{"w":6943,"r":-0.006},{"w":6945,"r":0.008},{"w":6947,"r":-0.004},{"w":6949,"r":0.022},{"w":6951,"r":-0.006},{"w":6953,"r":-0.012},{"w":6955,"r":0.004},{"w":6957,"r":0.01},{"w":6959,"r":-0.004},{"w":6961,"r":0.013},{"w":6963,"r":0.006},{"w":6965,"r":0.012},{"w":6967,"r":-0.006},{"w":6969,"r":0.008},{"w":6971,"r":0.002},{"w":6973,"r":0.01},{"w":6975,"r":-0.008},{"w":6977,"r":0.004},{"w":6979,"r":0.006},{"w":6981,"r":-0.01},{"w":6983,"r":0.005},{"w":6985,"r":-0.017},{"w":6987,"r":0.004},{"w":6989,"r":-0.004},{"w":6991,"r":0.008},{"w":6993,"r":-0.01},{"w":6995,"r":-0.02},{"w":6997,"r":0.004}
],
"ann":[
{"p":1,"w":4120,"v":0.072,"t":"Ca K"},{"p":1,"w":4187,"v":0.044,"t":"Ca H/Hϵ"},{"p":1,"w":4295,"v":0.116,"t":"Hδ"},
{"p":2,"w":5126,"v":0.357,"t":"Hβ"},{"p":2,"w":5197,"v":0.333,"t":"[O III]λ4959"},{"p":2,"w":5243,"v":0.358,"t":"[O III]λ5007"},
{"p":3,"w":6915,"v":0.84,"t":"Hα"},{"p":3,"w":6960,"v":0.507,"t":"[N II]λ6583"},{"p":3,"w":6860,"v":0.41,"t":"[N II]λ6549"}
]
},
"vconcat":[
{
 "width":462,"height":124,
 "resolve":{"axis":{"x":"independent","y":"independent"}},
 "layer":[
  {"data":{"name":"top"},"transform":[{"filter":"isValid(datum.d)"}],"mark":{"type":"line","clip":true,"strokeWidth":1},
   "encoding":{
    "x":{"field":"w","type":"quantitative","scale":{"domain":[3500,7500],"nice":false,"zero":false},"axis":{"values":[3500,4000,4500,5000,5500,6000,6500,7000,7500],"format":"d","title":null}},
    "y":{"field":"d","type":"quantitative","scale":{"domain":[-0.2,1.0],"nice":false,"zero":false},"axis":{"values":[-0.2,0,0.2,0.4,0.6,0.8,1.0],"format":".1f","title":"F(λ)( ×10⁻¹⁵ erg cm⁻² s⁻¹)","titlePadding":4.2}},
    "detail":{"field":"g"},
    "color":{"datum":"Data","type":"nominal","scale":{"domain":["Data","Continuum","Model","Residual"],"range":["#0000ff","#008000","#ff0000","#000000"]},
      "legend":{"orient":"none","legendX":6,"legendY":3,"direction":"horizontal","title":null,"symbolType":"stroke","symbolSize":420,"symbolStrokeWidth":1.5,"labelFont":"DejaVu Sans","labelFontSize":9.5,"labelColor":"black","columnPadding":17,"labelOffset":6}}
   }},
  {"data":{"name":"top"},"transform":[{"filter":"isValid(datum.c)"}],"mark":{"type":"line","clip":true,"strokeWidth":1},
   "encoding":{
    "x":{"field":"w","type":"quantitative","axis":{"orient":"top","values":[3500,4000,4500,5000,5500,6000,6500,7000,7500],"labels":false,"title":null}},
    "y":{"field":"c","type":"quantitative","axis":{"orient":"right","values":[-0.2,0,0.2,0.4,0.6,0.8,1.0],"labels":false,"title":null}},
    "detail":{"field":"g"},
    "color":{"datum":"Continuum","type":"nominal"}
   }},
  {"data":{"name":"top"},"transform":[{"filter":"isValid(datum.m)"}],"mark":{"type":"line","clip":true,"strokeWidth":1},
   "encoding":{
    "x":{"field":"w","type":"quantitative","axis":null},
    "y":{"field":"m","type":"quantitative","axis":null},
    "detail":{"field":"g"},
    "color":{"datum":"Model","type":"nominal"}
   }},
  {"data":{"name":"tres"},"mark":{"type":"line","clip":true,"strokeWidth":1},
   "encoding":{
    "x":{"field":"w","type":"quantitative","axis":null},
    "y":{"field":"r","type":"quantitative","axis":null},
    "detail":{"field":"g"},
    "color":{"datum":"Residual","type":"nominal"}
   }}
 ]
},
{
 "columns":3,"spacing":{"row":25,"column":29},"bounds":"flush",
 "concat":[
  {
   "width":134,"height":124,
   "resolve":{"axis":{"x":"independent","y":"independent"}},
   "layer":[
    {"data":{"name":"p1"},"mark":{"type":"line","clip":true,"color":"#0000ff","strokeWidth":1},
     "encoding":{
      "x":{"field":"w","type":"quantitative","scale":{"domain":[3983,4320],"nice":false,"zero":false},"axis":{"values":[4000,4100,4200,4300],"labels":false,"title":null}},
      "y":{"field":"d","type":"quantitative","scale":{"domain":[0.021,0.286],"nice":false,"zero":false},"axis":{"values":[0.05,0.1,0.15,0.2,0.25],"format":".2f","title":"F(λ)( ×10⁻¹⁵ erg cm⁻² s⁻¹)","titlePadding":2.2}}
     }},
    {"data":{"name":"p1"},"mark":{"type":"line","clip":true,"color":"#008000","strokeWidth":1},
     "encoding":{
      "x":{"field":"w","type":"quantitative","axis":{"orient":"top","values":[4000,4100,4200,4300],"labels":false,"title":null}},
      "y":{"field":"c","type":"quantitative","axis":{"orient":"right","values":[0.05,0.1,0.15,0.2,0.25],"labels":false,"title":null}}
     }},
    {"data":{"name":"p1"},"mark":{"type":"line","clip":true,"color":"#ff0000","strokeWidth":1,"opacity":0.85},
     "encoding":{"x":{"field":"w","type":"quantitative","axis":null},"y":{"field":"m","type":"quantitative","axis":null}}},
    {"data":{"name":"ann"},"transform":[{"filter":"datum.p == 1"}],"mark":{"type":"text","font":"Liberation Serif","fontSize":10,"color":"black"},
     "encoding":{"x":{"field":"w","type":"quantitative","axis":null},"y":{"field":"v","type":"quantitative","axis":null},"text":{"field":"t"}}}
   ]
  },
  {
   "width":135,"height":124,
   "resolve":{"axis":{"x":"independent","y":"independent"}},
   "layer":[
    {"data":{"name":"p2m"},"mark":{"type":"line","clip":true,"color":"#ff0000","strokeWidth":1},
     "encoding":{
      "x":{"field":"w","type":"quantitative","scale":{"domain":[5084,5282],"nice":false,"zero":false},"axis":{"values":[5100,5150,5200,5250],"labels":false,"title":null}},
      "y":{"field":"v","type":"quantitative","scale":{"domain":[0.172,0.399],"nice":false,"zero":false},"axis":{"values":[0.2,0.25,0.3,0.35],"format":".2f","title":null}}
     }},
    {"data":{"name":"p2c"},"mark":{"type":"line","clip":true,"color":"#008000","strokeWidth":1},
     "encoding":{
      "x":{"field":"w","type":"quantitative","axis":{"orient":"top","values":[5100,5150,5200,5250],"labels":false,"title":null}},
      "y":{"field":"v","type":"quantitative","axis":{"orient":"right","values":[0.2,0.25,0.3,0.35],"labels":false,"title":null}}
     }},
    {"data":{"name":"p2d"},"mark":{"type":"line","clip":true,"color":"#0000ff","strokeWidth":1,"opacity":0.85},
     "encoding":{"x":{"field":"w","type":"quantitative","axis":null},"y":{"field":"v","type":"quantitative","axis":null}}},
    {"data":{"name":"ann"},"transform":[{"filter":"datum.p == 2"}],"mark":{"type":"text","font":"Liberation Serif","fontSize":10,"color":"black"},
     "encoding":{"x":{"field":"w","type":"quantitative","axis":null},"y":{"field":"v","type":"quantitative","axis":null},"text":{"field":"t"}}}
   ]
  },
  {
   "width":135,"height":124,
   "resolve":{"axis":{"x":"independent","y":"independent"}},
   "layer":[
    {"data":{"name":"p3d"},"mark":{"type":"line","clip":true,"color":"#0000ff","strokeWidth":1},
     "encoding":{
      "x":{"field":"w","type":"quantitative","scale":{"domain":[6795,6997.5],"nice":false,"zero":false},"axis":{"values":[6800,6850,6900,6950],"labels":false,"title":null}},
      "y":{"field":"v","type":"quantitative","scale":{"domain":[-0.057,1.172],"nice":false,"zero":false},"axis":{"values":[0,0.2,0.4,0.6,0.8,1.0],"format":".1f","title":null}}
     }},
    {"data":{"name":"p3c"},"mark":{"type":"line","clip":true,"color":"#008000","strokeWidth":1},
     "encoding":{
      "x":{"field":"w","type":"quantitative","axis":{"orient":"top","values":[6800,6850,6900,6950],"labels":false,"title":null}},
      "y":{"field":"v","type":"quantitative","axis":{"orient":"right","values":[0,0.2,0.4,0.6,0.8,1.0],"labels":false,"title":null}}
     }},
    {"data":{"name":"p3m"},"mark":{"type":"line","clip":true,"color":"#ff0000","strokeWidth":1,"opacity":0.85},
     "encoding":{"x":{"field":"w","type":"quantitative","axis":null},"y":{"field":"v","type":"quantitative","axis":null}}},
    {"data":{"name":"ann"},"transform":[{"filter":"datum.p == 3"}],"mark":{"type":"text","font":"Liberation Serif","fontSize":10,"color":"black"},
     "encoding":{"x":{"field":"w","type":"quantitative","axis":null},"y":{"field":"v","type":"quantitative","axis":null},"text":{"field":"t"}}}
   ]
  },
  {
   "width":134,"height":125,
   "resolve":{"axis":{"x":"independent","y":"independent"}},
   "layer":[
    {"data":{"name":"r1"},"mark":{"type":"line","clip":true,"color":"#0000ff","strokeWidth":1,"opacity":0.85},
     "encoding":{
      "x":{"field":"w","type":"quantitative","scale":{"domain":[3983,4320],"nice":false,"zero":false},"axis":{"values":[4000,4100,4200,4300],"format":"d","title":null}},
      "y":{"field":"r","type":"quantitative","scale":{"domain":[-0.03,0.03],"nice":false,"zero":false},"axis":{"values":[-0.03,-0.02,-0.01,0,0.01,0.02,0.03],"format":".2f","title":"Residual ( ×10⁻¹⁵ erg cm⁻² s⁻¹)","titleFont":"DejaVu Sans","titleFontStyle":"normal","titleFontSize":8,"titlePadding":-0.3}}
     }},
    {"data":{"values":[{}]},"mark":{"type":"rule","color":"black","strokeWidth":1.5},
     "encoding":{
      "x":{"datum":3983,"type":"quantitative","axis":{"orient":"top","values":[4000,4100,4200,4300],"labels":false,"title":null}},
      "x2":{"datum":4320},
      "y":{"datum":0,"type":"quantitative","axis":{"orient":"right","values":[-0.03,-0.02,-0.01,0,0.01,0.02,0.03],"labels":false,"title":null}}
     }}
   ]
  },
  {
   "width":135,"height":125,
   "resolve":{"axis":{"x":"independent","y":"independent"}},
   "layer":[
    {"data":{"name":"r2"},"mark":{"type":"line","clip":true,"color":"#0000ff","strokeWidth":1,"opacity":0.85},
     "encoding":{
      "x":{"field":"w","type":"quantitative","scale":{"domain":[5084,5282],"nice":false,"zero":false},"axis":{"values":[5100,5150,5200,5250],"format":"d","title":"λ (Å)","titleFontStyle":"normal","titleFontSize":10.5,"titlePadding":2}},
      "y":{"field":"r","type":"quantitative","scale":{"domain":[-0.03,0.03],"nice":false,"zero":false},"axis":{"values":[-0.03,-0.02,-0.01,0,0.01,0.02,0.03],"format":".2f","title":null}}
     }},
    {"data":{"values":[{}]},"mark":{"type":"rule","color":"black","strokeWidth":1.5},
     "encoding":{
      "x":{"datum":5084,"type":"quantitative","axis":{"orient":"top","values":[5100,5150,5200,5250],"labels":false,"title":null}},
      "x2":{"datum":5282},
      "y":{"datum":0,"type":"quantitative","axis":{"orient":"right","values":[-0.03,-0.02,-0.01,0,0.01,0.02,0.03],"labels":false,"title":null}}
     }}
   ]
  },
  {
   "width":135,"height":125,
   "resolve":{"axis":{"x":"independent","y":"independent"}},
   "layer":[
    {"data":{"name":"r3"},"mark":{"type":"line","clip":true,"color":"#0000ff","strokeWidth":1,"opacity":0.85},
     "encoding":{
      "x":{"field":"w","type":"quantitative","scale":{"domain":[6795,6997.5],"nice":false,"zero":false},"axis":{"values":[6800,6850,6900,6950],"format":"d","title":null}},
      "y":{"field":"r","type":"quantitative","scale":{"domain":[-0.03,0.03],"nice":false,"zero":false},"axis":{"values":[-0.03,-0.02,-0.01,0,0.01,0.02,0.03],"format":".2f","title":null}}
     }},
    {"data":{"values":[{}]},"mark":{"type":"rule","color":"black","strokeWidth":1.5},
     "encoding":{
      "x":{"datum":6795,"type":"quantitative","axis":{"orient":"top","values":[6800,6850,6900,6950],"labels":false,"title":null}},
      "x2":{"datum":6997.5},
      "y":{"datum":0,"type":"quantitative","axis":{"orient":"right","values":[-0.03,-0.02,-0.01,0,0.01,0.02,0.03],"labels":false,"title":null}}
     }}
   ]
  }
 ]
}
],
"spacing":11.7,"bounds":"full"
}
